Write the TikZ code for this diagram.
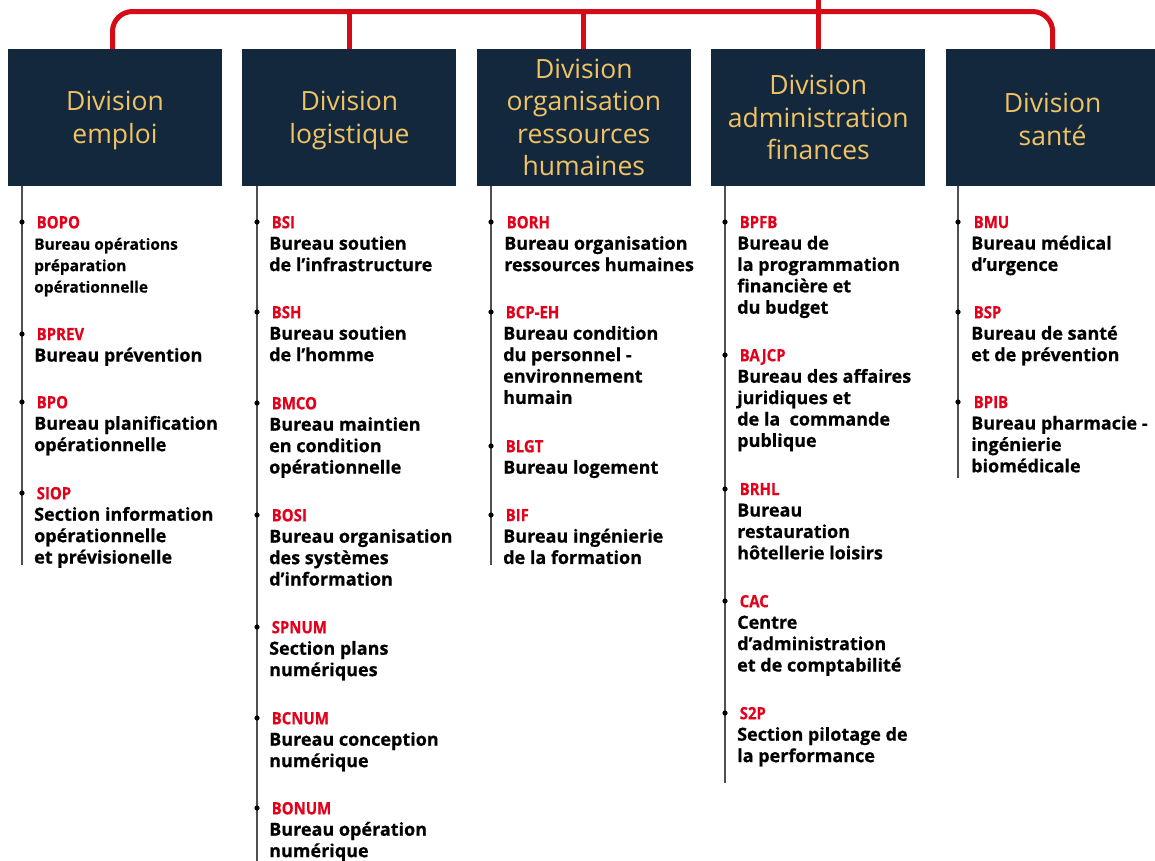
\documentclass[tikz,border=0pt]{standalone}
\usepackage{fontspec}
\setmainfont{Open Sans}[BoldFeatures={FakeBold=0.6}]
\newfontfamily\titlefont{Open Sans}
\newfontfamily\codefont{Open Sans}[FakeStretch=0.88, BoldFeatures={FakeBold=0.4}]
\usetikzlibrary{positioning}

\definecolor{navy}{RGB}{19,40,61}
\definecolor{gold}{RGB}{240,195,100}
\definecolor{linkred}{RGB}{213,11,22}
\definecolor{codered}{RGB}{226,0,26}
\definecolor{railgrey}{RGB}{80,80,80}

\newcommand\code[1]{{\codefont\bfseries\fontsize{17}{21.4}\selectfont\color{codered}\hspace*{2.5pt}#1}}

\begin{document}
\begin{tikzpicture}[x=1pt, y=-1pt,
	division/.style={fill=navy, text=gold, minimum width=214pt, minimum height=137pt,
		inner sep=0pt, align=center, font=\titlefont\fontsize{26.5}{32.5}\selectfont},
	bureau/.style={anchor=north west, inner sep=0pt, yshift=6.2pt, align=left,
		font=\bfseries\fontsize{18}{21.4}\selectfont},
	smallbureau/.style={bureau, font=\bfseries\fontsize{15.5}{21.4}\selectfont},
	link/.style={draw=linkred, line width=5pt},
	rail/.style={draw=railgrey, line width=1.8pt},
	dot/.style={fill=black}]

	\useasboundingbox (0,0) rectangle (1155,860);

	% ---- divisions

	\node[division] (emploi) at (115,117.5) {\rule{0pt}{25pt}Division\\emploi};
	\node[division, right=20pt of emploi] (logistique) {\rule{0pt}{25pt}Division\\logistique};
	\node[division, right=20pt of logistique] (orh) {Division\\organisation\\ressources\\humaines};
	\node[division, right=20pt of orh] (admin) {Division\\administration\\finances};
	\node[division, right=20pt of admin] (sante) {\rule{0pt}{23pt}Division\\santé};

	% ---- red links

	\coordinate (root) at (818,-5);
	\coordinate (bus) at (0,11.5);

	\draw[link, rounded corners=20pt] ([xshift=-2.5pt]emploi.north) |- (sante.north |- bus) -- (sante.north);
	\draw[link] (logistique.north) -- (logistique.north |- bus);
	\draw[link] (orh.north) -- (orh.north |- bus);
	\draw[link] (admin.north) -- (admin.north |- root);

	% ---- rail ends

	\coordinate (emploi-end) at (22,565);
	\coordinate (logistique-end) at (257,862);
	\coordinate (orh-end) at (491,565);
	\coordinate (admin-end) at (725,783);
	\coordinate (sante-end) at (958,478);

	% ---- bureaux: emploi

	\node[smallbureau] (bopo) at (34,222) {\code{BOPO}\\Bureau opérations\\préparation\\opérationnelle};
	\node[bureau] (bprev) at (34,334) {\code{BPREV}\\Bureau prévention};
	\node[bureau] (bpo) at (34,402) {\code{BPO}\\Bureau planification\\opérationnelle};
	\node[bureau] (siop) at (34,493) {\code{SIOP}\\Section information\\opérationnelle\\et prévisionelle};

	% ---- bureaux: logistique

	\node[bureau] (bsi) at (269,222) {\code{BSI}\\Bureau soutien\\de l’infrastructure};
	\node[bureau] (bsh) at (269,312) {\code{BSH}\\Bureau soutien\\de l’homme};
	\node[bureau] (bmco) at (269,403) {\code{BMCO}\\Bureau maintien\\en condition\\opérationnelle};
	\node[bureau] (bosi) at (269,515) {\code{BOSI}\\Bureau organisation\\des systèmes\\d’information};
	\node[bureau] (spnum) at (269,627) {\code{SPNUM}\\Section plans\\numériques};
	\node[bureau] (bcnum) at (269,718) {\code{BCNUM}\\Bureau conception\\numérique};
	\node[bureau] (bonum) at (269,808) {\code{BONUM}\\Bureau opération\\numérique};

	% ---- bureaux: organisation ressources humaines

	\node[bureau] (borh) at (504,222) {\code{BORH}\\Bureau organisation\\ressources humaines};
	\node[bureau] (bcpeh) at (503,312) {\code{BCP-EH}\\Bureau condition\\du personnel -\\environnement\\humain};
	\node[bureau] (blgt) at (503,446) {\code{BLGT}\\Bureau logement};
	\node[bureau] (bif) at (503,515) {\code{BIF}\\Bureau ingénierie\\de la formation};

	% ---- bureaux: administration finances

	\node[bureau] (bpfb) at (737,222) {\code{BPFB}\\Bureau de\\la programmation\\financière et\\du budget};
	\node[bureau] (bajcp) at (737,355) {\code{BAJCP}\\Bureau des affaires\\juridiques et\\de la \ commande\\publique};
	\node[bureau] (brhl) at (737,489) {\code{BRHL}\\Bureau\\restauration\\hôtellerie loisirs};
	\node[bureau] (cac) at (737,601) {\code{CAC}\\Centre\\d’administration\\et de comptabilité};
	\node[bureau] (s2p) at (737,713) {\code{S2P}\\Section pilotage de\\la performance};

	% ---- bureaux: sante

	\node[bureau] (bmu) at (971,222) {\code{BMU}\\Bureau médical\\d’urgence};
	\node[bureau] (bsp) at (971,312) {\code{BSP}\\Bureau de santé\\et de prévention};
	\node[bureau] (bpib) at (971,402) {\code{BPIB}\\Bureau pharmacie -\\ingénierie\\biomédicale};

	% ---- rails

	\foreach \d in {emploi,logistique,orh,admin,sante} {
		\draw[rail] (\d-end |- \d.south) -- (\d-end);
	}

	% ---- bullets

	\foreach \b in {bopo,bprev,bpo,siop} { \fill[dot] (emploi-end |- \b.north) ++(0,6.2) circle (2.6pt); }
	\foreach \b in {bsi,bsh,bmco,bosi,spnum,bcnum,bonum} { \fill[dot] (logistique-end |- \b.north) ++(0,6.2) circle (2.6pt); }
	\foreach \b in {borh,bcpeh,blgt,bif} { \fill[dot] (orh-end |- \b.north) ++(0,6.2) circle (2.6pt); }
	\foreach \b in {bpfb,bajcp,brhl,cac,s2p} { \fill[dot] (admin-end |- \b.north) ++(0,6.2) circle (2.6pt); }
	\foreach \b in {bmu,bsp,bpib} { \fill[dot] (sante-end |- \b.north) ++(0,6.2) circle (2.6pt); }

\end{tikzpicture}
\end{document}
